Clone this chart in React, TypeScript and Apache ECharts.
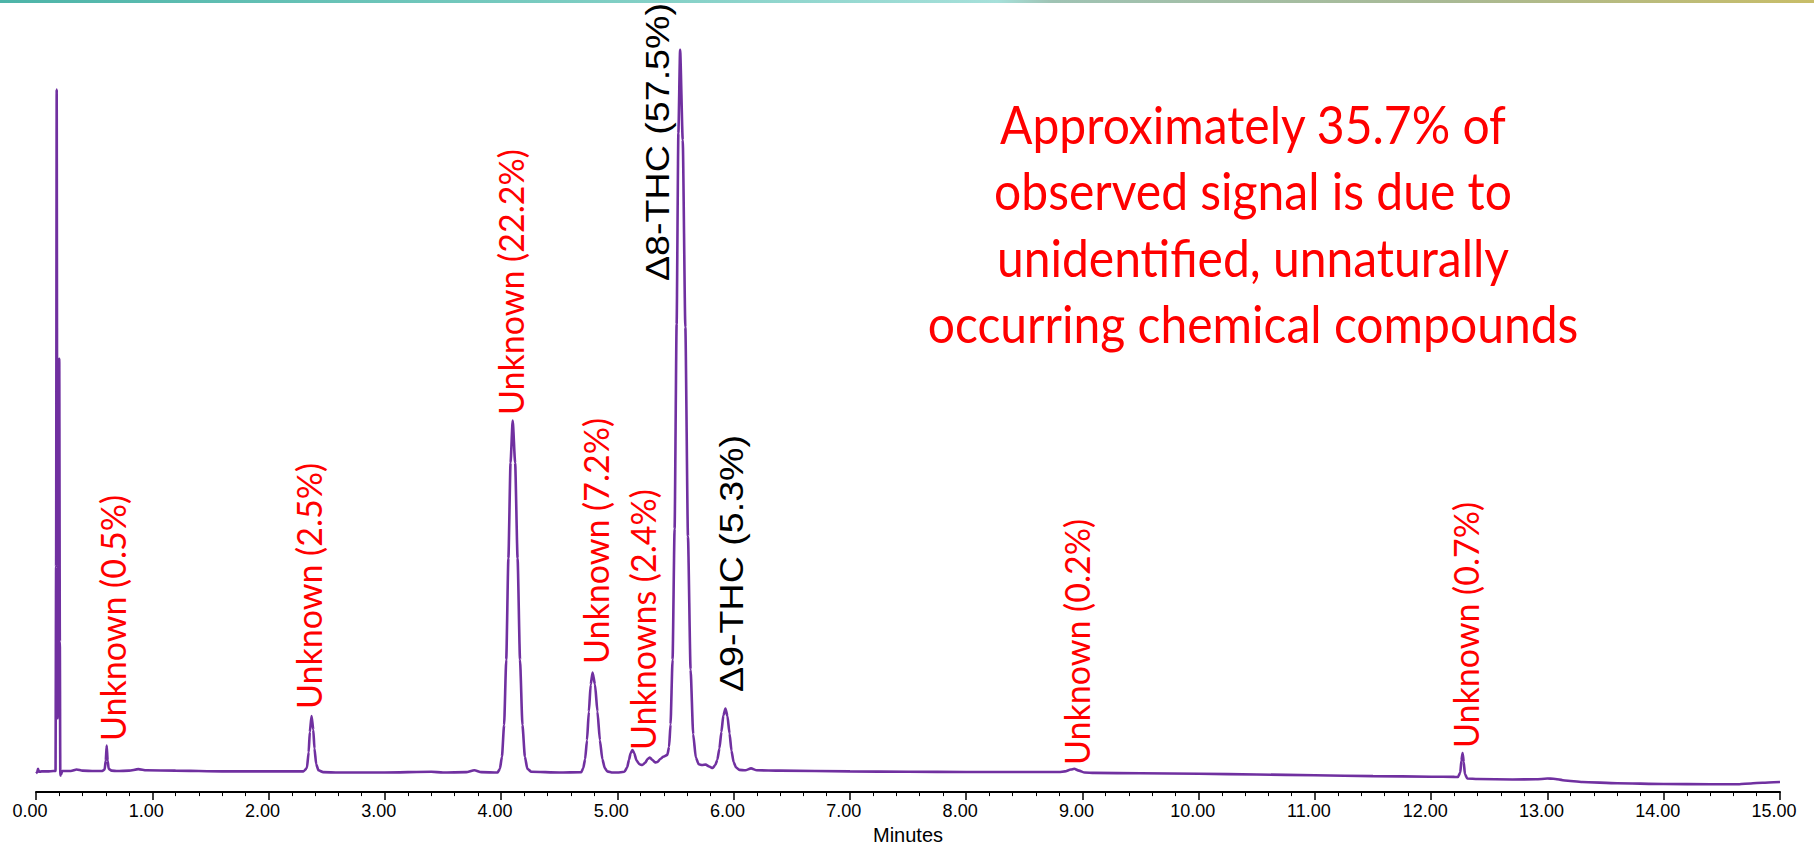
import React, { useEffect, useRef } from "react";
import * as echarts from "echarts";

// ---- Data (time in minutes, detector signal in relative units 0-100) ----
const solventFront: [number, number][] = [
  [0.0, 2.5], [0.01, 2.6], [0.017, 3.1], [0.025, 2.7], [0.05, 2.75], [0.1, 2.75],
  [0.15, 2.8], [0.168, 2.8], [0.173, 30], [0.178, 93.4], [0.183, 30], [0.187, 9.8],
  [0.193, 30], [0.2, 57.6], [0.205, 20], [0.209, 2.2], [0.215, 2.3], [0.225, 2.8],
  [0.3, 2.8], [0.35, 3.0], [0.4, 2.85], [0.5, 2.8],
];
const earlyPeaks: [number, number][] = [
  [0.57, 2.8], [0.59, 3.0], [0.6, 4.2], [0.608, 6.2], [0.616, 4.2], [0.625, 3.1],
  [0.65, 2.85], [0.7, 2.8], [0.8, 2.85], [0.88, 3.05], [0.95, 2.9], [1.2, 2.85],
  [1.6, 2.75], [2.0, 2.75], [2.3, 2.75],
  [2.33, 3.2], [2.345, 5.3], [2.355, 8.0], [2.37, 10.1], [2.385, 8.3], [2.395, 5.8],
  [2.41, 3.7], [2.43, 2.9], [2.47, 2.65], [2.6, 2.6], [3.0, 2.6], [3.4, 2.7],
  [3.5, 2.6], [3.7, 2.65], [3.77, 2.9], [3.83, 2.65], [3.97, 2.6],
];
const peak410: [number, number][] = [
  [3.99, 3.1], [4.0075, 4.7], [4.026, 8.9], [4.0445, 17.6], [4.063, 31.1],
  [4.0815, 43.8], [4.1, 49.4], [4.121, 43.8], [4.142, 31.1], [4.163, 17.6],
  [4.184, 8.9], [4.205, 4.7], [4.226, 3.1], [4.26, 2.7], [4.5, 2.6], [4.69, 2.65],
];
const peak479: [number, number][] = [
  [4.707, 3.2], [4.723, 4.4], [4.739, 6.9], [4.755, 10.7], [4.771, 14.3],
  [4.787, 15.9], [4.808, 14.3], [4.829, 10.7], [4.85, 6.9], [4.871, 4.4],
  [4.892, 3.2], [4.913, 2.75], [4.96, 2.6], [5.0, 2.6],
];
const minorCluster: [number, number][] = [
  [5.06, 2.7], [5.085, 3.3], [5.1, 4.3], [5.115, 5.2], [5.13, 5.6], [5.145, 5.2],
  [5.165, 4.2], [5.19, 3.7], [5.215, 3.6], [5.24, 3.9], [5.26, 4.4], [5.28, 4.6],
  [5.3, 4.3], [5.325, 3.95], [5.345, 4.0], [5.37, 4.4], [5.395, 4.7], [5.43, 4.95],
];
const delta8Peak: [number, number][] = [
  [5.445, 6.0], [5.4575, 9.0], [5.475, 17.6], [5.4925, 35], [5.51, 62.2],
  [5.525, 87.6], [5.54, 98.7], [5.5625, 86.7], [5.585, 61.8], [5.6075, 34],
  [5.63, 16.3], [5.6525, 7.7], [5.675, 4.6], [5.7, 3.7], [5.73, 3.6], [5.76, 3.65],
  [5.79, 3.4], [5.82, 3.2],
];
const delta9Peak: [number, number][] = [
  [5.843, 3.6], [5.86, 4.3], [5.878, 5.8], [5.895, 8.0], [5.912, 10.2], [5.93, 11.1],
  [5.947, 10.1], [5.965, 7.8], [5.982, 5.5], [6.0, 4.0], [6.02, 3.3], [6.05, 2.95],
  [6.1, 2.9], [6.15, 3.15], [6.2, 2.9], [6.4, 2.85],
];
const latePeaks: [number, number][] = [
  [7.0, 2.75], [7.5, 2.7], [8.0, 2.68], [8.5, 2.67], [8.8, 2.67], [8.85, 2.75],
  [8.9, 3.0], [8.93, 3.1], [8.97, 2.85], [9.02, 2.6], [9.1, 2.55], [9.5, 2.5],
  [10.0, 2.44], [10.5, 2.34], [11.0, 2.24], [11.5, 2.12], [12.0, 2.05], [12.2, 2.02],
  [12.23, 2.0], [12.25, 2.6], [12.26, 4.2], [12.27, 5.2], [12.28, 4.0], [12.29, 2.4],
  [12.31, 1.8], [12.4, 1.75], [12.7, 1.68], [12.9, 1.7], [13.0, 1.8], [13.05, 1.78],
  [13.15, 1.55], [13.3, 1.35], [13.6, 1.18], [14.0, 1.08], [14.4, 1.05],
  [14.65, 1.05], [14.75, 1.15], [14.85, 1.25], [15.0, 1.35],
];

const peakLabels = [
  "Unknown (0.5%)",
  "Unknown (2.5%)",
  "Unknown (22.2%)",
  "Unknown (7.2%)",
  "Unknowns (2.4%)",
  "\u03948-THC (57.5%)",
  "\u03949-THC (5.3%)",
  "Unknown (0.2%)",
  "Unknown (0.7%)",
];

const noteLines = [
  "Approximately 35.7% of",
  "observed signal is due to",
  "unidentified, unnaturally",
  "occurring chemical compounds",
];

// ---- Layout (pixels) for annotations ----
const labelLayout = [
  { cx: 112, bottom: 741, black: false },
  { cx: 308, bottom: 709, black: false },
  { cx: 510, bottom: 415, black: false },
  { cx: 595, bottom: 664, black: false },
  { cx: 642, bottom: 750, black: false },
  { cx: 657, bottom: 281, black: true },
  { cx: 731, bottom: 692, black: true },
  { cx: 1076, bottom: 765, black: false },
  { cx: 1465, bottom: 748, black: false },
];
const noteCenterX = 1253;
const noteLineY = [124, 190, 257, 323];

const AXIS_FONT = "'Liberation Sans', Arial, sans-serif";
const RED_FONT = "Lato, 'Open Sans', sans-serif";

export default function App() {
  const ref = useRef<HTMLDivElement>(null);
  useEffect(() => {
    if (!ref.current) return;
    const chart = echarts.init(ref.current, undefined, { renderer: "svg" });
    const data = [
      ...solventFront,
      ...earlyPeaks,
      ...peak410,
      ...peak479,
      ...minorCluster,
      ...delta8Peak,
      ...delta9Peak,
      ...latePeaks,
    ];
    const graphic: any[] = [
      {
        type: "rect",
        shape: { x: 0, y: 0, width: 1814, height: 3 },
        style: {
          fill: {
            type: "linear",
            x: 0,
            y: 0,
            x2: 1,
            y2: 0,
            colorStops: [
              { offset: 0, color: "#4db4a8" },
              { offset: 0.3, color: "#79cbc0" },
              { offset: 0.55, color: "#a6e0da" },
              { offset: 0.58, color: "#9fc3b4" },
              { offset: 0.8, color: "#a9b994" },
              { offset: 1, color: "#c8bd68" },
            ],
          },
        },
        silent: true,
      },
    ];
    peakLabels.forEach((t, i) => {
      const l = labelLayout[i];
      graphic.push({
        type: "text",
        x: l.cx,
        y: l.bottom,
        rotation: Math.PI / 2,
        scaleX: l.black ? 1.14 : 1,
        silent: true,
        style: {
          text: t,
          fill: l.black ? "#000000" : "#ff0000",
          fontSize: l.black ? 33 : 34,
          fontFamily: l.black ? AXIS_FONT : RED_FONT,
          align: "left",
          verticalAlign: "middle",
        },
      });
    });
    noteLines.forEach((t, i) => {
      graphic.push({
        type: "text",
        x: noteCenterX,
        y: noteLineY[i],
        silent: true,
        scaleY: 1.08,
        style: {
          text: t,
          fill: "#ff0000",
          fontSize: 48,
          fontFamily: RED_FONT,
          align: "center",
          verticalAlign: "middle",
        },
      });
    });

    chart.setOption({
      animation: false,
      grid: { left: 36, right: 34, top: 40, bottom: 52.5 },
      xAxis: {
        type: "value",
        min: 0,
        max: 15,
        interval: 1,
        name: "Minutes",
        nameLocation: "middle",
        nameGap: 31,
        nameTextStyle: { color: "#000", fontSize: 20, fontFamily: AXIS_FONT },
        axisLine: { show: true, onZero: false, lineStyle: { color: "#000", width: 2 } },
        axisTick: { show: true, length: 8, lineStyle: { color: "#000", width: 1.5 } },
        minorTick: { show: true, splitNumber: 5, length: 4, lineStyle: { color: "#000", width: 1 } },
        axisLabel: {
          color: "#000",
          fontSize: 18,
          fontFamily: AXIS_FONT,
          margin: 10,
          padding: [0, 12, 0, 0],
          formatter: (v: number) => v.toFixed(2),
        },
        splitLine: { show: false },
        minorSplitLine: { show: false },
      },
      yAxis: { type: "value", min: 0, max: 100, show: false },
      series: [
        {
          type: "line",
          data,
          showSymbol: false,
          symbol: "none",
          silent: true,
          smooth: 0.2,
          smoothMonotone: "x",
          lineStyle: { color: "#7030a0", width: 2.6 },
        },
      ],
      graphic,
    });
    return () => chart.dispose();
  }, []);
  return (
    <div
      ref={ref}
      style={{ position: "fixed", left: 0, top: 0, width: "1814px", height: "850px", background: "#fff" }}
    />
  );
}
